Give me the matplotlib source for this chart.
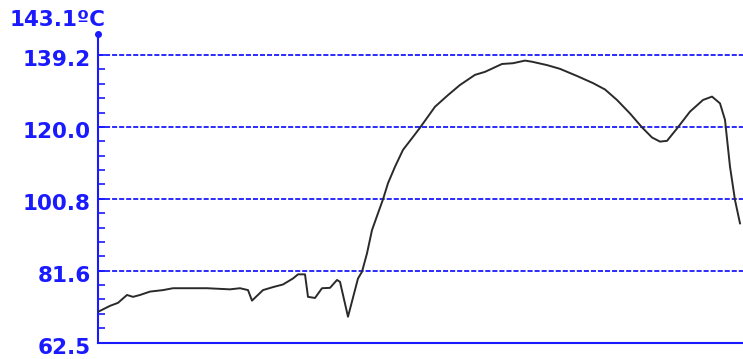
"""Oven temperature trace exported as out.png."""

from __future__ import annotations

import matplotlib

matplotlib.use("Agg")
import matplotlib.pyplot as plt
import matplotlib.transforms as mtransforms
from matplotlib.ticker import FixedLocator

# sample index along the run and probe temperature (degC)
SAMPLES = [
    0, 12, 20, 29, 35, 42, 52, 65, 75, 109, 132, 142, 150, 154, 165, 175,
    185, 195, 200, 207, 210, 217, 224, 232, 239, 242, 250, 260, 264, 269,
    274, 280, 285, 290, 297, 305, 314, 322, 337, 350, 362, 377, 387, 404,
    415, 427, 434, 449, 462, 479, 495, 507, 519, 532, 544, 554, 562, 569,
    579, 592, 605, 614, 622, 627, 632, 637, 642,
]
TEMPS = [
    70.7, 72.3, 73.1, 75.2, 74.7, 75.2, 76.1, 76.5, 77.0, 77.0, 76.7, 77.0,
    76.5, 73.7, 76.5, 77.3, 78.0, 79.6, 80.7, 80.7, 74.7, 74.4, 77.0, 77.1,
    79.2, 78.7, 69.4, 79.6, 81.4, 86.3, 92.5, 97.0, 100.7, 105.0, 109.4,
    113.9, 117.0, 119.8, 125.4, 128.5, 131.2, 133.9, 134.7, 136.8, 137.0,
    137.7, 137.4, 136.5, 135.5, 133.6, 131.7, 130.0, 127.2, 123.6, 119.9,
    117.2, 116.1, 116.3, 119.6, 124.1, 127.2, 128.1, 126.3, 121.9, 109.4,
    100.5, 94.3,
]

GRID_LEVELS = [81.6, 100.8, 120.0, 139.2]
TICK_LABELS = ["62.5", "81.6", "100.8", "120.0", "139.2"]
Y_MIN = 62.5
Y_MAX_LABEL = "143.1ºC"

BLUE = "#1a1aff"
W, H, DPI = 743, 359, 100


def main() -> None:
    fig = plt.figure(figsize=(W / DPI, H / DPI), dpi=DPI)
    # axes box in pixels: left 98, bottom 343, top 34, right edge of figure
    left, bottom_px, top_px = 98, 342.6, 34
    ax = fig.add_axes([left / W, (H - bottom_px) / H, 1 - left / W, (bottom_px - top_px) / H])

    px_per_unit = 3.75
    y_top = Y_MIN + (bottom_px - top_px) / px_per_unit
    ax.set_ylim(Y_MIN, y_top)
    ax.set_xlim(0, W - left)

    for lvl in GRID_LEVELS:
        ax.axhline(lvl, color=BLUE, lw=1.3, dashes=(2.8, 1.1), zorder=1)

    ax.plot(SAMPLES, TEMPS, color="#2a2a2a", lw=1.4, zorder=3)

    for side in ("top", "right"):
        ax.spines[side].set_visible(False)
    for side in ("left", "bottom"):
        ax.spines[side].set_color(BLUE)
        ax.spines[side].set_linewidth(1.5)
    ax.plot([0], [y_top], "o", color=BLUE, ms=4, clip_on=False, zorder=4)

    majors = [Y_MIN] + GRID_LEVELS
    ax.set_xticks([])
    ax.set_yticks(majors, TICK_LABELS)
    step = (GRID_LEVELS[-1] - Y_MIN) / 20
    ax.yaxis.set_minor_locator(FixedLocator([Y_MIN + i * step for i in range(21)]))
    ax.tick_params(axis="y", which="both", direction="in", length=5, width=1.2,
                   color=BLUE, pad=5)
    ax.tick_params(axis="y", which="major", labelsize=15.5, labelcolor=BLUE)
    shift = mtransforms.ScaledTranslation(0, -3 / DPI, fig.dpi_scale_trans)
    for lab in ax.get_yticklabels():
        lab.set_fontweight("bold")
        lab.set_transform(lab.get_transform() + shift)

    fig.text(10 / W, 1 - 19.5 / H, Y_MAX_LABEL, color=BLUE, fontsize=15.5,
             fontweight="bold", ha="left", va="center")

    fig.savefig("out.png", dpi=DPI)
    plt.close(fig)


if __name__ == "__main__":
    main()
